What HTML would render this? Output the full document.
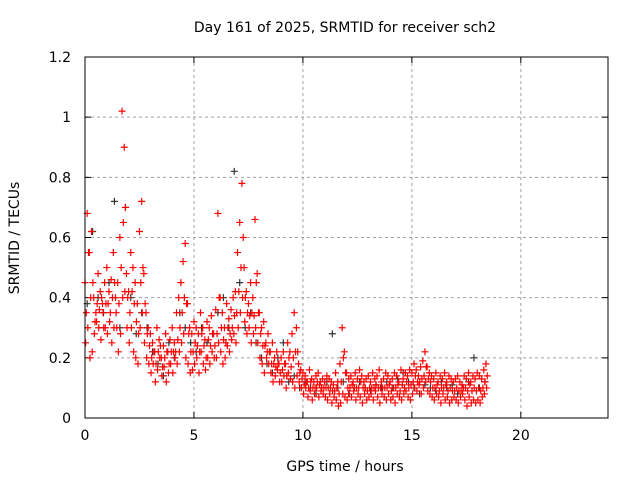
<!DOCTYPE html>
<html><head><meta charset="utf-8"><style>
body{margin:0;background:#fff;}
svg text{font-family:"DejaVu Sans","Liberation Sans",sans-serif;font-size:14px;fill:#000;}
</style></head><body>
<svg id="chart" width="640" height="480" xmlns="http://www.w3.org/2000/svg">
<text x="345" y="32" text-anchor="middle">Day 161 of 2025, SRMTID for receiver sch2</text>
<g id="grid"></g>
<g id="axes"></g>
<g id="marks"></g>
<rect x="85" y="57" width="523" height="361" fill="none" stroke="#000" stroke-width="1"/>
<text x="345" y="471" text-anchor="middle">GPS time / hours</text>
<text transform="translate(19,238) rotate(-90)" text-anchor="middle">SRMTID / TECUs</text>
</svg>
<script>
const xTicks=[0,5,10,15,20];
const yTicks=[0,0.2,0.4,0.6,0.8,1,1.2];
const yTickLabels=["0","0.2","0.4","0.6","0.8","1","1.2"];
const redStart=0, redStep=0.1;
const redA=[.45,.68,.55,.62,.40,.35,.48,.42,.38,.45,.50,.42,.46,.55,.40,.45,.60,1.02,.90,.48,.42,.55,.50,.45,.38,.62,.72,.48,.35,.30,.28,.25,.22,.30,.26,.20,.24,.28,.22,.26,.30,.25,.35,.40,.45,.52,.58,.38,.30,.28,.32,.30,.28,.35,.30,.26,.32,.30,.34,.28,.36,.68,.40,.35,.30,.38,.33,.36,.40,.42,.55,.65,.78,.50,.42,.38,.45,.40,.66,.48,.35,.30,.32,.25,.28,.22,.25,.20,.22,.18,.20,.22,.18,.25,.22,.28,.35,.30,.18,.16,.15,.14,.12,.16,.13,.12,.14,.15,.12,.13,.12,.14,.13,.12,.11,.15,.12,.18,.30,.22,.15,.13,.14,.12,.15,.13,.16,.14,.12,.13,.14,.12,.15,.13,.14,.16,.12,.13,.15,.14,.12,.13,.15,.14,.12,.16,.13,.15,.14,.16,.15,.18,.16,.14,.17,.19,.22,.17,.15,.14,.13,.15,.12,.14,.13,.15,.12,.14,.13,.12,.13,.14,.12,.11,.14,.13,.15,.12,.14,.13,.15,.14,.13,.16,.18];
const redB=[.25,.30,.20,.22,.28,.32,.30,.26,.35,.30,.28,.32,.25,.30,.35,.22,.28,.40,.42,.30,.25,.30,.22,.20,.18,.30,.35,.25,.20,.18,.15,.18,.12,.16,.20,.14,.17,.12,.15,.18,.15,.20,.18,.22,.25,.28,.20,.18,.15,.16,.18,.20,.15,.22,.18,.16,.20,.18,.22,.20,.20,.25,.22,.18,.20,.24,.22,.26,.28,.25,.30,.35,.40,.32,.28,.30,.25,.28,.30,.25,.20,.18,.15,.20,.18,.15,.12,.14,.16,.12,.12,.14,.10,.15,.13,.12,.10,.14,.12,.10,.08,.10,.07,.09,.06,.08,.10,.07,.09,.08,.07,.06,.08,.05,.07,.06,.04,.05,.08,.07,.06,.08,.07,.09,.06,.08,.07,.05,.08,.06,.07,.08,.06,.09,.07,.05,.08,.07,.06,.08,.06,.07,.05,.08,.07,.06,.08,.09,.07,.06,.08,.10,.09,.11,.08,.10,.12,.09,.08,.07,.06,.08,.07,.05,.08,.06,.07,.05,.06,.07,.06,.05,.07,.08,.06,.04,.07,.05,.06,.05,.06,.05,.07,.08,.10];
const redC=[.35,.55,.40,.45,.32,.38,.36,.40,.30,.38,.38,.35,.40,.45,.30,.38,.50,.65,.70,.40,.35,.42,.38,.32,.28,.45,.50,.38,.28,.24,.20,.22,.18,.22,.24,.17,.20,.22,.18,.22,.22,.22,.26,.30,.35,.40,.38,.28,.22,.22,.25,.24,.22,.28,.24,.20,.26,.24,.28,.24,.28,.40,.30,.26,.25,.30,.28,.30,.34,.35,.42,.50,.60,.40,.35,.34,.35,.34,.45,.35,.28,.24,.24,.22,.22,.18,.18,.17,.18,.15,.16,.18,.14,.20,.17,.20,.22,.22,.15,.13,.11,.12,.10,.12,.10,.10,.12,.11,.10,.10,.10,.10,.10,.09,.09,.10,.08,.12,.20,.15,.10,.10,.11,.10,.10,.10,.12,.10,.10,.09,.10,.10,.10,.11,.10,.10,.10,.10,.10,.11,.09,.10,.10,.11,.09,.11,.10,.12,.10,.11,.12,.14,.12,.12,.13,.14,.17,.13,.12,.10,.10,.11,.09,.10,.10,.11,.09,.10,.09,.09,.10,.09,.09,.10,.10,.09,.11,.09,.10,.09,.10,.09,.10,.12,.14];
const blackStart=0.1, blackStep=0.25;
const blackVals=[.38,.62,.40,.35,.45,.72,.30,.70,.40,.28,.35,.30,.22,.18,.14,.25,.20,.35,.30,.25,.22,.30,.25,.28,.35,.40,.30,.82,.45,.30,.35,.25,.20,.18,.15,.20,.25,.12,.14,.10,.12,.10,.08,.10,.12,.28,.10,.12,.08,.10,.12,.10,.09,.11,.10,.12,.10,.13,.15,.12,.10,.08,.11,.10,.09,.12,.10,.11,.08,.10,.12,.20,.10,.12];

const X0=85,X1=608,Y0=418,Y1=57,XMAX=24,YMAX=1.2;
const xs=v=>X0+v/XMAX*(X1-X0);
const ys=v=>Y0-v/YMAX*(Y0-Y1);
const NS="http://www.w3.org/2000/svg";
const grid=document.getElementById('grid'),axes=document.getElementById('axes'),marks=document.getElementById('marks');
function mk(tag,attrs,parent){const e=document.createElementNS(NS,tag);for(const k in attrs)e.setAttribute(k,attrs[k]);parent.appendChild(e);return e;}
xTicks.forEach(t=>{
  const x=xs(t);
  if(t>0){const g=mk('line',{x1:x,x2:x,y1:Y1,y2:Y0,stroke:'#a0a0a0','stroke-dasharray':'3,3'},grid);
  
  }
  const tk=mk('path',{d:`M${x} ${Y0}v-6M${x} ${Y1}v6`,stroke:'#000'},axes);
  
  
  const lb=mk('text',{x:x,y:Y0+22,'text-anchor':'middle'},axes);lb.textContent=String(t);
  
  
});
yTicks.forEach((t,i)=>{
  const y=ys(t);
  if(t>0&&t<YMAX){const g=mk('line',{x1:X0,x2:X1,y1:y,y2:y,stroke:'#a0a0a0','stroke-dasharray':'3,3'},grid);
  
  }
  const tk=mk('path',{d:`M${X0} ${y}h6M${X1} ${y}h-6`,stroke:'#000'},axes);
  
  
  const lb=mk('text',{x:X0-14,y:y+5,'text-anchor':'end'},axes);lb.textContent=yTickLabels[i];
  
  
});
function plus(t,v,color,name){
  const x=xs(t),y=ys(v);
  const p=mk('path',{d:`M${x-3.5} ${y}h7M${x} ${y-3.5}v7`,stroke:color,'stroke-width':1.2,fill:'none'},marks);
  
  
}
blackVals.forEach((v,i)=>plus(blackStart+i*blackStep,v,'#333','black-point'));
redA.forEach((v,i)=>plus(redStart+i*redStep,v,'#f00','red-point'));
redB.forEach((v,i)=>plus(redStart+i*redStep+0.03,v,'#f00','red-point'));
redC.forEach((v,i)=>plus(redStart+i*redStep+0.06,v,'#f00','red-point'));
</script>
</body></html>
